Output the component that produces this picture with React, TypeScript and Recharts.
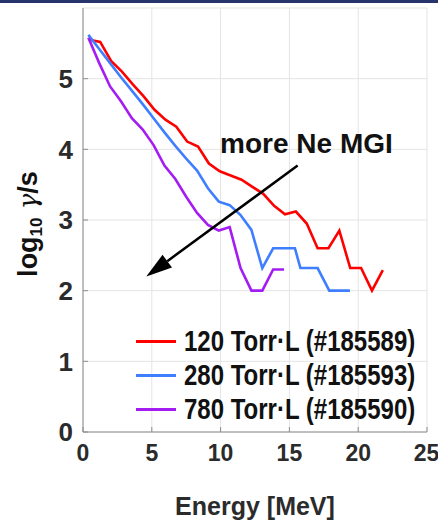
import React from "react";
import {
  LineChart,
  Line,
  XAxis,
  YAxis,
  CartesianGrid,
  Legend,
  ReferenceLine,
  ReferenceDot,
  Label,
} from "recharts";

const xTicks = [0, 5, 10, 15, 20, 25];
const yTicks = [0, 1, 2, 3, 4, 5];

// 120 Torr·L (#185589)
const redE = [0.46, 1.25, 2.04, 2.83, 3.62, 4.41, 5.2, 5.99, 6.78, 7.57, 8.36, 9.15, 9.94, 10.73, 11.52, 12.31, 13.1, 13.89, 14.68, 15.47, 16.26, 17.05, 17.84, 18.63, 19.42, 20.21, 21.0, 21.79];
const redV = [5.55, 5.52, 5.25, 5.1, 4.92, 4.75, 4.56, 4.42, 4.32, 4.11, 4.04, 3.8, 3.69, 3.63, 3.57, 3.47, 3.37, 3.2, 3.08, 3.12, 2.95, 2.6, 2.6, 2.85, 2.32, 2.32, 2.0, 2.29];

// 280 Torr·L (#185593)
const blueE = [0.39, 1.18, 1.97, 2.76, 3.55, 4.34, 5.13, 5.92, 6.71, 7.5, 8.29, 9.08, 9.87, 10.66, 11.45, 12.24, 13.03, 13.82, 15.4, 15.8, 17.05, 17.9, 19.4];
const blueV = [5.62, 5.42, 5.22, 5.02, 4.83, 4.64, 4.44, 4.24, 4.05, 3.87, 3.7, 3.45, 3.26, 3.21, 3.07, 2.86, 2.32, 2.6, 2.6, 2.32, 2.32, 2.0, 2.0];

// 780 Torr·L (#185590)
const purpleE = [0.39, 1.18, 1.97, 2.76, 3.55, 4.34, 5.13, 5.92, 6.71, 7.5, 8.29, 9.08, 9.87, 10.66, 11.45, 12.24, 13.03, 13.82, 14.61];
const purpleV = [5.58, 5.22, 4.89, 4.68, 4.44, 4.28, 4.06, 3.77, 3.58, 3.33, 3.1, 2.93, 2.85, 2.9, 2.32, 2.0, 2.0, 2.3, 2.3];

const series = [
  { name: "120 Torr·L (#185589)", color: "#ff0000", e: redE, v: redV },
  { name: "280 Torr·L (#185593)", color: "#3f7fff", e: blueE, v: blueV },
  { name: "780 Torr·L (#185590)", color: "#a51cf2", e: purpleE, v: purpleV },
];

// arrow "more Ne MGI": from (E, log) to (E, log)
const arrowFrom = { x: 15.6, y: 3.77 };
const arrowTo = { x: 4.6, y: 2.2 };
const noteAt = { x: 16.24, y: 4.09 };

const FONT = "'Liberation Sans', Arial, sans-serif";

const Arrow = (props: any) => {
  const { x1, y1, x2, y2 } = props;
  const dx = x2 - x1;
  const dy = y2 - y1;
  const len = Math.sqrt(dx * dx + dy * dy);
  const ux = dx / len;
  const uy = dy / len;
  const head = 26;
  const half = 8;
  const bx = x2 - ux * head;
  const by = y2 - uy * head;
  return (
    <g>
      <line x1={x1} y1={y1} x2={bx} y2={by} stroke="#000" strokeWidth={2.5} />
      <polygon
        points={`${x2},${y2} ${bx - uy * half},${by + ux * half} ${bx + uy * half},${by - ux * half}`}
        fill="#000"
      />
    </g>
  );
};

const YLabel = (props: any) => {
  const { viewBox } = props;
  const x = viewBox.x + 37;
  const y = viewBox.y + viewBox.height / 2 + 4;
  return (
    <text
      x={x}
      y={y}
      transform={`rotate(-90 ${x} ${y})`}
      textAnchor="middle"
      fontFamily={FONT}
      fill="#111"
    >
      <tspan fontSize={27} fontWeight="bold">log</tspan>
      <tspan fontSize={17} fontWeight="bold" dy={5}>10</tspan>
      <tspan fontSize={26} dy={-5} fontFamily="'DejaVu Serif', serif" fontStyle="italic"> γ</tspan>
      <tspan fontSize={27} fontWeight="bold">/s</tspan>
    </text>
  );
};

const LegendBox = () => (
  <div style={{ fontFamily: FONT }}>
    {series.map((s) => (
      <div key={s.name} style={{ display: "flex", alignItems: "center", height: 34 }}>
        <div style={{ width: 40, height: 3, background: s.color, marginRight: 8 }} />
        <span
          style={{
            fontSize: 24,
            fontWeight: "bold",
            color: "#111",
            display: "inline-block",
            transform: "scaleY(1.2)",
            whiteSpace: "nowrap",
          }}
        >
          {s.name}
        </span>
      </div>
    ))}
  </div>
);

export default function App() {
  return (
    <div style={{ position: "absolute", left: 0, top: 0, width: 438, height: 524, background: "#fff" }}>
      <div style={{ position: "absolute", left: 0, top: 0, width: 438, height: 3, background: "#27346b" }} />
      <LineChart width={438} height={524} margin={{ top: 8, right: 11, left: 0, bottom: 0 }}>
        <CartesianGrid stroke="#e4e4e4" strokeWidth={1} xAxisId="b" yAxisId="l" />
        <XAxis
          xAxisId="b"
          dataKey="e"
          type="number"
          domain={[0, 25]}
          ticks={xTicks}
          height={92}
          stroke="#8c8c8c"
          tickSize={-5}
          tickMargin={18}
          tick={{ fill: "#2b2b2b", fontSize: 23, fontWeight: "bold", fontFamily: FONT }}
        >
          <Label
            value="Energy [MeV]"
            position="insideBottom"
            offset={9}
            style={{ fill: "#2b2b2b", fontSize: 25, fontWeight: "bold", fontFamily: FONT }}
          />
        </XAxis>
        <XAxis
          xAxisId="t"
          orientation="top"
          type="number"
          domain={[0, 25]}
          ticks={xTicks}
          height={0}
          stroke="#8c8c8c"
          tickSize={-5}
          tick={false}
        />
        <YAxis
          yAxisId="l"
          type="number"
          domain={[0, 6]}
          ticks={yTicks}
          width={83}
          stroke="#8c8c8c"
          tickSize={-5}
          tickMargin={15}
          tick={{ fill: "#2b2b2b", fontSize: 26, fontWeight: "bold", fontFamily: FONT }}
          label={<YLabel />}
        />
        <YAxis
          yAxisId="r"
          orientation="right"
          type="number"
          domain={[0, 6]}
          ticks={yTicks}
          width={0}
          stroke="#8c8c8c"
          tickSize={-5}
          tick={false}
        />
        {series.map((s) => (
          <Line
            key={s.name}
            xAxisId="b"
            yAxisId="l"
            data={s.e.map((e, i) => ({ e, v: s.v[i] }))}
            dataKey="v"
            name={s.name}
            stroke={s.color}
            strokeWidth={2.6}
            dot={false}
            type="linear"
            isAnimationActive={false}
          />
        ))}
        <ReferenceLine
          xAxisId="b"
          yAxisId="l"
          segment={[arrowFrom, arrowTo]}
          shape={<Arrow />}
        />
        <ReferenceDot
          xAxisId="b"
          yAxisId="l"
          x={noteAt.x}
          y={noteAt.y}
          r={0}
          fill="none"
          stroke="none"
        >
          <Label
            value="more Ne MGI"
            position="center"
            style={{ fill: "#111", fontSize: 28, fontWeight: "bold", fontFamily: FONT }}
          />
        </ReferenceDot>
        <Legend
          layout="vertical"
          align="center"
          verticalAlign="middle"
          content={<LegendBox />}
          wrapperStyle={{ position: "absolute", left: 136, top: 324, width: 300 }}
        />
      </LineChart>
    </div>
  );
}
